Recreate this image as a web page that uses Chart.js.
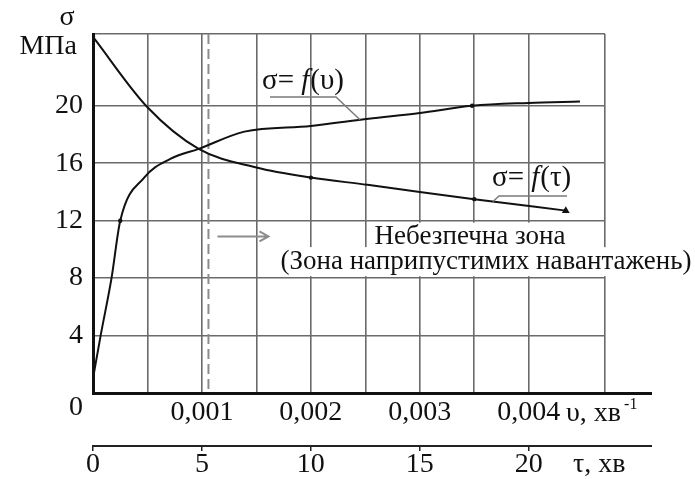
<!DOCTYPE html>
<html>
<head>
<meta charset="utf-8">
<script src="https://cdn.jsdelivr.net/npm/chart.js@4.4.1/dist/chart.umd.min.js"></script>
<style>
  html, body { margin: 0; padding: 0; background: #fff; }
  #wrap { width: 695px; height: 479px; }
</style>
</head>
<body>
<div id="wrap"><canvas id="chart"></canvas></div>
<script>
// σ = f(υ), υ in хв⁻¹
const vValues = [0, 0.00007, 0.00017, 0.00025, 0.00047, 0.00071, 0.00097, 0.00139, 0.002, 0.00253, 0.003, 0.00348, 0.004, 0.00447];
const sigmaV = [1, 4, 8, 12, 15, 16.3, 17, 18.2, 18.6, 19.1, 19.5, 20.0, 20.2, 20.3];

// σ = f(τ), τ in хв
const tauValues = [0, 2.5, 4.85, 7.5, 10, 12.6, 15, 17.5, 21.7];
const sigmaTau = [24.8, 19.9, 17.0, 15.7, 15.0, 14.5, 14.0, 13.5, 12.7];

const sigmaTicks = [0, 4, 8, 12, 16, 20];
const vTickLabels = [0.001, 0.002, 0.003, 0.004];
const tauTicks = [0, 5, 10, 15, 20];

const sigmaMax = 25;
const vMax = 0.0047;
const tauMax = 23.5;
const vGridStep = 0.0005;
const dangerV = 0.00106;
const arrowSigma = 10.9;

const SERIF = '"Liberation Serif", "Times New Roman", serif';
const INK = "#111";
const GRID = "#6a6a6a";

function interpY(xs, ys, xScale, yScale, px) {
  const val = xScale.getValueForPixel(px);
  for (let i = 0; i < xs.length - 1; i += 1) {
    if (val >= xs[i] && val <= xs[i + 1]) {
      const t = (val - xs[i]) / (xs[i + 1] - xs[i]);
      return yScale.getPixelForValue(ys[i] + t * (ys[i + 1] - ys[i]));
    }
  }
  return yScale.getPixelForValue(ys[ys.length - 1]);
}

function drawFLabel(ctx, x, y, arg) {
  ctx.textAlign = "left";
  ctx.textBaseline = "middle";
  ctx.font = `29px ${SERIF}`;
  ctx.fillText("σ= ", x, y);
  let cx = x + ctx.measureText("σ= ").width;
  ctx.font = `italic 29px ${SERIF}`;
  ctx.fillText("f", cx, y);
  cx += ctx.measureText("f").width + 1;
  ctx.font = `29px ${SERIF}`;
  ctx.fillText(`(${arg})`, cx, y);
}

const decor = {
  id: "decor",
  beforeDatasetsDraw(chart) {
    const { ctx, chartArea: a, scales } = chart;
    const y = scales.y;
    const x = scales.x;
    const y12 = y.getPixelForValue(12);
    const y8 = y.getPixelForValue(8);

    ctx.save();
    // white ground under the zone caption
    ctx.fillStyle = "#fff";
    ctx.fillRect(368, y12 + 2, a.right - 2 - 368, y8 - y12 - 4);
    ctx.fillRect(278, y8 - 31, chart.width - 278, 29);

    // dashed boundary
    const xd = x.getPixelForValue(dangerV);
    ctx.strokeStyle = "#8c8c8c";
    ctx.lineWidth = 2;
    ctx.setLineDash([10, 5]);
    ctx.beginPath();
    ctx.moveTo(xd, a.top);
    ctx.lineTo(xd, a.bottom);
    ctx.stroke();
    ctx.setLineDash([]);

    // arrow into the zone
    const ya = y.getPixelForValue(arrowSigma);
    const x1 = xd + 9;
    const x2 = x1 + 51;
    ctx.strokeStyle = "#8c8c8c";
    ctx.lineWidth = 2;
    ctx.beginPath();
    ctx.moveTo(x1, ya);
    ctx.lineTo(x2, ya);
    ctx.moveTo(x2 - 9, ya - 5);
    ctx.lineTo(x2, ya);
    ctx.lineTo(x2 - 9, ya + 5);
    ctx.stroke();
    ctx.restore();
  },
  afterDraw(chart) {
    const { ctx, chartArea: a, scales } = chart;
    const { x, xt, y } = scales;
    const extRight = 652;

    ctx.save();
    // axis lines run past the grid
    ctx.strokeStyle = INK;
    ctx.lineWidth = 3;
    ctx.beginPath();
    ctx.moveTo(a.right - 1, x.top + 0.5);
    ctx.lineTo(extRight, x.top + 0.5);
    ctx.stroke();
    ctx.lineWidth = 2;
    ctx.strokeStyle = "#222";
    ctx.beginPath();
    ctx.moveTo(a.right - 1, xt.top);
    ctx.lineTo(extRight, xt.top);
    ctx.stroke();

    ctx.fillStyle = INK;
    ctx.font = `28px ${SERIF}`;
    ctx.textBaseline = "middle";
    ctx.textAlign = "center";
    ctx.fillText("σ", 67, 18);
    ctx.textAlign = "right";
    ctx.fillText("МПа", 77, 47);
    ctx.fillText("0", 83, 408);

    // axis names
    ctx.textAlign = "left";
    ctx.fillText("υ, хв", 566, x.top + 21);
    const w = ctx.measureText("υ, хв").width;
    ctx.font = `16px ${SERIF}`;
    ctx.fillText("-1", 566 + w + 3, x.top + 12);
    ctx.font = `28px ${SERIF}`;
    ctx.fillText("τ, хв", 573, xt.top + 19);

    // curve captions with leaders
    ctx.strokeStyle = "#7a7a7a";
    ctx.lineWidth = 1.5;
    const av = interpY(vValues, sigmaV, x, y, 360);
    ctx.beginPath();
    ctx.moveTo(270, 97);
    ctx.lineTo(336, 97);
    ctx.lineTo(360, av);
    ctx.stroke();
    drawFLabel(ctx, 262, 81, "υ");

    const at = interpY(tauValues, sigmaTau, xt, y, 493);
    ctx.beginPath();
    ctx.moveTo(567, 196);
    ctx.lineTo(499, 196);
    ctx.lineTo(493, at);
    ctx.stroke();
    drawFLabel(ctx, 492, 178, "τ");

    // danger zone caption
    const y12 = y.getPixelForValue(12);
    const y8 = y.getPixelForValue(8);
    ctx.fillStyle = INK;
    ctx.font = `27px ${SERIF}`;
    ctx.textAlign = "center";
    ctx.fillText("Небезпечна зона", 470, y12 + 16);
    ctx.fillText("(Зона наприпустимих навантажень)", 486, y8 - 16);
    ctx.restore();
  },
};

const vPointRadius = vValues.map((_, i) => (i === 3 || i === 11 ? 2.2 : 0));
const tauPointRadius = tauValues.map((_, i) => {
  if (i === tauValues.length - 1) return 4.5;
  return i === 0 || i === 4 || i === 7 ? 2.2 : 0;
});
const tauPointStyle = tauValues.map((_, i) => (i === tauValues.length - 1 ? "triangle" : "circle"));

new Chart(document.getElementById("chart"), {
  type: "line",
  data: {
    datasets: [
      {
        label: "σ=f(υ)",
        data: vValues.map((v, i) => ({ x: v, y: sigmaV[i] })),
        xAxisID: "x",
        yAxisID: "y",
        borderColor: INK,
        borderWidth: 2,
        pointRadius: vPointRadius,
        pointBackgroundColor: INK,
        pointBorderWidth: 0,
        cubicInterpolationMode: "monotone",
      },
      {
        label: "σ=f(τ)",
        data: tauValues.map((t, i) => ({ x: t, y: sigmaTau[i] })),
        xAxisID: "xt",
        yAxisID: "y",
        borderColor: INK,
        borderWidth: 2,
        pointRadius: tauPointRadius,
        pointStyle: tauPointStyle,
        pointBackgroundColor: INK,
        pointBorderColor: INK,
        pointBorderWidth: 0,
        cubicInterpolationMode: "monotone",
      },
    ],
  },
  options: {
    responsive: true,
    maintainAspectRatio: false,
    animation: false,
    layout: { padding: { left: 0, top: 34, right: 90, bottom: 0 } },
    plugins: { legend: { display: false }, tooltip: { enabled: false } },
    scales: {
      x: {
        type: "linear",
        position: "bottom",
        min: 0,
        max: vMax,
        afterBuildTicks(scale) {
          const ticks = [];
          for (let k = 0; k * vGridStep <= vTickLabels[vTickLabels.length - 1] + 1e-9; k += 1) {
            ticks.push({ value: k * vGridStep });
          }
          ticks.push({ value: vMax });
          scale.ticks = ticks;
        },
        afterFit(scale) { scale.height = 53; },
        grid: {
          color: (c) => (c.tick && c.tick.value === 0 ? "rgba(0,0,0,0)" : GRID),
          lineWidth: 1.6,
          drawTicks: false,
        },
        border: { color: INK, width: 3 },
        ticks: {
          autoSkip: false,
          maxRotation: 0,
          padding: 3,
          color: INK,
          font: { family: SERIF, size: 28 },
          callback: (value) =>
            vTickLabels.some((t) => Math.abs(t - value) < 1e-9) ? value.toFixed(3).replace(".", ",") : "",
        },
      },
      xt: {
        type: "linear",
        position: "bottom",
        min: 0,
        max: tauMax,
        afterBuildTicks(scale) { scale.ticks = tauTicks.map((v) => ({ value: v })); },
        afterFit(scale) { scale.height = 33; },
        grid: { drawOnChartArea: false, drawTicks: true, tickLength: 5, color: "#222", lineWidth: 1.5 },
        border: { color: "#222", width: 2 },
        ticks: {
          autoSkip: false,
          maxRotation: 0,
          padding: -3,
          color: INK,
          font: { family: SERIF, size: 28 },
        },
      },
      y: {
        type: "linear",
        min: 0,
        max: sigmaMax,
        afterBuildTicks(scale) {
          scale.ticks = sigmaTicks.map((v) => ({ value: v })).concat([{ value: sigmaMax }]);
        },
        afterFit(scale) { scale.width = 93; },
        grid: {
          color: (c) => (c.tick && c.tick.value === 0 ? "rgba(0,0,0,0)" : GRID),
          lineWidth: 1.6,
          drawTicks: false,
        },
        border: { color: INK, width: 3 },
        ticks: {
          autoSkip: false,
          padding: 10,
          color: INK,
          font: { family: SERIF, size: 28 },
          callback: (value) => (value !== 0 && sigmaTicks.includes(value) ? String(value) : ""),
        },
      },
    },
  },
  plugins: [decor],
});
</script>
</body>
</html>
